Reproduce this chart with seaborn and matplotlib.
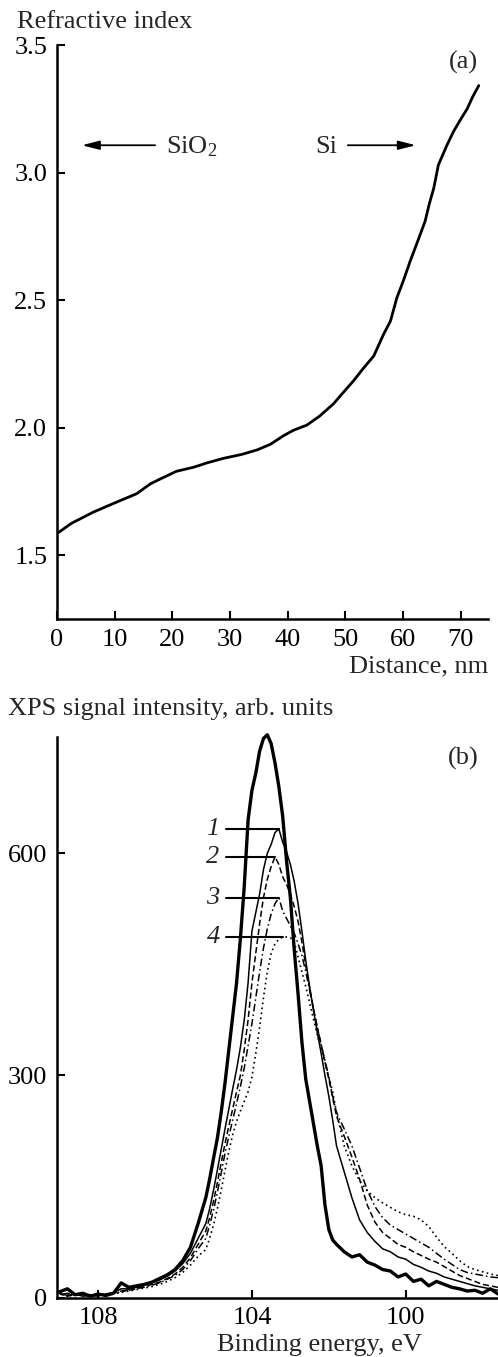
import matplotlib
matplotlib.use("Agg")
import matplotlib.pyplot as plt
import seaborn as sns
import pandas as pd

# ---------------- data: panel (a) ----------------
distance_nm = [0, 2.5, 6.3, 10.0, 13.8, 16.2, 18.0, 20.7, 23.7, 26.0, 28.9, 32.0, 34.7,
               37.0, 39.3, 41.0, 43.3, 45.5, 47.9, 49.5, 51.4, 53.0, 54.9, 56.6, 57.8,
               58.9, 60.0, 61.2, 62.5, 63.8, 64.5, 65.3, 66.1, 67.6, 68.7, 70.0, 71.1,
               72.0, 73.1]
refr_index = [1.585, 1.625, 1.669, 1.705, 1.741, 1.78, 1.80, 1.829, 1.845, 1.862, 1.88,
              1.895, 1.913, 1.935, 1.969, 1.99, 2.01, 2.045, 2.093, 2.135, 2.184, 2.23,
              2.281, 2.366, 2.418, 2.509, 2.574, 2.652, 2.73, 2.809, 2.875, 2.939, 3.03,
              3.108, 3.16, 3.21, 3.25, 3.295, 3.341]
a_xticks = [0, 10, 20, 30, 40, 50, 60, 70]
a_yticks = [1.5, 2.0, 2.5, 3.0, 3.5]

# ---------------- data: panel (b) ----------------
energy_ev = [109.0, 108.8, 108.6, 108.4, 108.2, 108.0, 107.8, 107.6, 107.4, 107.2,
             107.0, 106.8, 106.6, 106.4, 106.2, 106.0, 105.8, 105.6, 105.4, 105.2,
             105.1, 105.0, 104.9, 104.8, 104.7, 104.6, 104.5, 104.4, 104.3, 104.2,
             104.1, 104.0, 103.9, 103.8, 103.7, 103.6, 103.5, 103.4, 103.3, 103.2,
             103.1, 103.0, 102.9, 102.8, 102.7, 102.6, 102.5, 102.4, 102.3, 102.2,
             102.1, 102.0, 101.9, 101.8,
             101.6, 101.4, 101.2, 101.0, 100.8, 100.6, 100.4, 100.2, 100.0, 99.8,
             99.6, 99.4, 99.2, 99.0, 98.8, 98.6, 98.4, 98.2, 98.0, 97.8, 97.6]

xps_ref = [8, 12, 4, 6, 2, 5, 3, 6, 20, 14, 16, 18, 21, 26, 31, 38, 50, 68, 100, 135,
           160, 188, 215, 250, 290, 335, 380, 425, 485, 555,
           645, 685, 708, 738, 755, 760, 748, 722, 690, 650,
           590, 540, 470, 410, 345, 295, 265, 235, 205, 178,
           125, 92, 78, 72,
           62, 55, 58, 48, 44, 38, 36, 28, 32, 22, 25, 16, 22, 18, 14, 12, 9, 10, 6, 12, 5]
xps_1 = [6, 3, 5, 2, 4, 3, 5, 7, 12, 12, 14, 17, 20, 24, 29, 36, 46, 60, 80, 100,
         120, 145, 172, 200, 228, 255, 282, 308, 338, 375,
         425, 495, 520, 545, 578, 600, 612, 628, 633, 615,
         602, 585, 562, 532, 495, 455, 420, 388, 358, 330,
         300, 272, 240, 205,
         170, 135, 105, 88, 76, 66, 62, 55, 52, 45, 41, 36, 33, 28, 25, 22, 19, 16, 14, 12, 10]
xps_2 = [5, 2, 4, 3, 2, 4, 3, 6, 9, 10, 12, 15, 18, 21, 26, 32, 41, 54, 72, 90,
         108, 130, 155, 182, 208, 232, 255, 278, 300, 335,
         375, 425, 465, 505, 540, 565, 582, 595, 585, 568,
         558, 545, 528, 508, 480, 448, 418, 390, 365, 342,
         318, 295, 270, 245,
         218, 190, 160, 125, 102, 88, 80, 72, 68, 62, 57, 52, 48, 42, 36, 30, 26, 22, 18, 16, 14]
xps_3 = [4, 6, 3, 5, 4, 2, 5, 6, 8, 11, 13, 14, 17, 20, 25, 30, 38, 50, 66, 80,
         98, 118, 142, 168, 195, 218, 240, 262, 285, 310,
         340, 370, 405, 440, 472, 498, 518, 532, 540, 522,
         512, 502, 492, 478, 462, 440, 415, 390, 365, 342,
         320, 298, 272, 250,
         228, 205, 175, 145, 123, 108, 98, 92, 86, 80, 74, 68, 60, 52, 45, 38, 34, 32, 30, 28, 27]
xps_4 = [3, 5, 6, 4, 3, 5, 4, 5, 7, 9, 11, 13, 15, 18, 22, 27, 34, 44, 56, 65,
         80, 98, 120, 145, 172, 198, 220, 238, 252, 265,
         278, 298, 330, 365, 405, 440, 465, 478, 484, 487,
         487, 486, 480, 460, 440, 420, 398, 376, 355, 336,
         318, 298, 278, 250,
         205, 178, 158, 144, 135, 128, 122, 116, 112, 110, 105, 96, 82, 69, 60, 50, 42, 38, 35, 32, 30]
curve_labels = ["ref", "1", "2", "3", "4"]
b_xticks = [108, 104, 100]
b_yticks = [0, 300, 600]

# ---------------- style ----------------
sns.set_theme(style="ticks")
plt.rcParams["font.family"] = ["Liberation Serif", "DejaVu Serif"]
plt.rcParams["mathtext.fontset"] = "custom"
plt.rcParams["mathtext.rm"] = "Liberation Serif"
plt.rcParams["mathtext.it"] = "Liberation Serif:italic"
FS = 19
plt.rcParams["font.size"] = FS

fig = plt.figure(figsize=(4.98, 13.57), dpi=100)
fig.patch.set_facecolor("white")

def style_axes(ax):
    for s in ["top", "right"]:
        ax.spines[s].set_visible(False)
    for s in ["left", "bottom"]:
        ax.spines[s].set_linewidth(1.8)
        ax.spines[s].set_color("black")
    ax.tick_params(direction="in", length=6, width=1.5, colors="black",
                   labelsize=FS, pad=7)
    ax.set_xlabel("")
    ax.set_ylabel("")
    ax.set_facecolor("white")
    ax.grid(False)

# ---------------- panel (a) ----------------
ax1 = fig.add_axes([57 / 498, 1 - 619 / 1357, (488 - 57) / 498, (619 - 45) / 1357])
sns.lineplot(x=distance_nm, y=refr_index, ax=ax1, color="black", linewidth=2.0,
             errorbar=None)
ax1.set_xlim(0, 74.7)
ax1.set_ylim(1.25, 3.5)
ax1.set_xticks(a_xticks)
ax1.set_yticks(a_yticks)
ax1.set_yticklabels([f"{v:.1f}" for v in a_yticks])
style_axes(ax1)

arrow_kw = dict(arrowstyle="-|>,head_length=0.55,head_width=0.14", color="black",
                lw=1.3, shrinkA=0, shrinkB=0)
ax1.annotate("", xy=(4.3, 3.107), xytext=(17.0, 3.107), arrowprops=arrow_kw)
ax1.annotate("", xy=(62.2, 3.107), xytext=(50.4, 3.107), arrowprops=arrow_kw)
ax1.text(18.9, 3.075, r"SiO$_2$", ha="left", va="baseline", fontsize=FS)
ax1.text(48.5, 3.075, "Si", ha="right", va="baseline", fontsize=FS)
ax1.text(0.942, 0.970, "(a)", transform=ax1.transAxes, ha="center", va="center",
         fontsize=FS)

fig.text(17 / 498, 1 - 28 / 1357, "Refractive index", ha="left", va="baseline",
         fontsize=FS)
fig.text(488 / 498, 1 - 672 / 1357, "Distance, nm", ha="right", va="baseline",
         fontsize=FS)

# ---------------- panel (b) ----------------
ax2 = fig.add_axes([57 / 498, 1 - 1297.7 / 1357, (498 - 57) / 498, (1297.7 - 737) / 1357])
df = pd.DataFrame({
    "E": energy_ev * 5,
    "I": xps_ref + xps_1 + xps_2 + xps_3 + xps_4,
    "curve": sum([[c] * len(energy_ev) for c in curve_labels], []),
})
line_styles = {
    "ref": dict(linewidth=2.4, linestyle="-"),
    "1": dict(linewidth=1.1, linestyle="-"),
    "2": dict(linewidth=1.1, linestyle=(0, (4, 2))),
    "3": dict(linewidth=1.1, linestyle=(0, (5, 2, 1, 2))),
    "4": dict(linewidth=1.2, linestyle=(0, (1, 2))),
}
for c in curve_labels:
    sub = df[df["curve"] == c]
    sns.lineplot(data=sub, x="E", y="I", ax=ax2, color="black", errorbar=None,
                 clip_on=False, **line_styles[c])

ax2.set_xlim(109.07, 97.6)
ax2.set_ylim(0, 757)
ax2.set_xticks(b_xticks)
ax2.set_yticks(b_yticks)
style_axes(ax2)

# curve number leaders
label_x_start = 104.67
for c in curve_labels[1:]:
    sub = df[df["curve"] == c].reset_index(drop=True)
    k = sub["I"].idxmax()
    ax2.plot([label_x_start, sub.loc[k, "E"]], [sub.loc[k, "I"]] * 2,
             color="black", lw=1.5)
    ax2.text(105.01, sub.loc[k, "I"], c, ha="center", va="center",
             fontsize=FS, fontstyle="italic")

ax2.text(0.921, 0.9626, "(b)", transform=ax2.transAxes, ha="center", va="center",
         fontsize=FS)
fig.text(8 / 498, 1 - 715 / 1357, "XPS signal intensity, arb. units", ha="left",
         va="baseline", fontsize=FS)
fig.text(217 / 498, 1 - 1351 / 1357, "Binding energy, eV", ha="left",
         va="baseline", fontsize=FS)

fig.savefig("out.png", dpi=100, facecolor="white")
